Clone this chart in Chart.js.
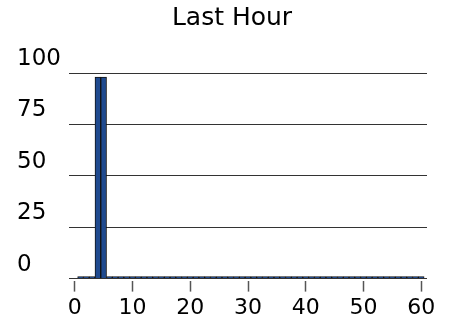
<!DOCTYPE html>
<html>
<head>
<meta charset="utf-8">
<title>Last Hour</title>
<script src="https://cdn.jsdelivr.net/npm/chart.js@4/dist/chart.umd.min.js"></script>
<style>
  html, body { margin: 0; padding: 0; background: #fff; }
  #wrap { width: 454px; height: 319px; }
</style>
</head>
<body>
<div id="wrap"><canvas id="c" width="454" height="319"></canvas></div>
<script>
(function () {
  "use strict";

  // minutes of the last hour, and count per minute
  var MINUTES = [
    1, 2, 3, 4, 5, 6, 7, 8, 9, 10,
    11, 12, 13, 14, 15, 16, 17, 18, 19, 20,
    21, 22, 23, 24, 25, 26, 27, 28, 29, 30,
    31, 32, 33, 34, 35, 36, 37, 38, 39, 40,
    41, 42, 43, 44, 45, 46, 47, 48, 49, 50,
    51, 52, 53, 54, 55, 56, 57, 58, 59, 60
  ];
  var COUNTS = [
    1, 1, 1, 98, 98, 1, 1, 1, 1, 1,
    1, 1, 1, 1, 1, 1, 1, 1, 1, 1,
    1, 1, 1, 1, 1, 1, 1, 1, 1, 1,
    1, 1, 1, 1, 1, 1, 1, 1, 1, 1,
    1, 1, 1, 1, 1, 1, 1, 1, 1, 1,
    1, 1, 1, 1, 1, 1, 1, 1, 1, 1
  ];
  var X_TICKS = [0, 10, 20, 30, 40, 50, 60];
  var Y_TICKS = [0, 25, 50, 75, 100];

  var FONT = "'DejaVu Sans', sans-serif";

  var points = MINUTES.map(function (m, i) {
    return { x: m, y: COUNTS[i] };
  });

  function fixTicks(list) {
    return function (scale) {
      scale.ticks = list.map(function (v) { return { value: v }; });
    };
  }

  // title in the original sits a bit right of the canvas centre
  var titleNudge = {
    id: "titleNudge",
    afterLayout: function (chart) {
      var t = chart.titleBlock;
      if (t) t.left += 20;
    }
  };

  new Chart(document.getElementById("c").getContext("2d"), {
    type: "bar",
    data: {
      datasets: [{
        data: points,
        backgroundColor: "#1f4a8f",
        borderColor: "#111",
        borderWidth: 1,
        barPercentage: 1,
        categoryPercentage: 1
      }]
    },
    options: {
      responsive: false,
      animation: false,
      layout: { padding: { left: 17, right: 27, top: 0, bottom: 0 } },
      plugins: {
        legend: { display: false },
        tooltip: { enabled: false },
        title: {
          display: true,
          text: "Last Hour",
          color: "#000",
          font: { family: FONT, size: 25, weight: "normal" },
          padding: { top: 3, bottom: 40 }
        }
      },
      scales: {
        x: {
          type: "linear",
          offset: false,
          min: -1,
          max: 61,
          afterBuildTicks: fixTicks(X_TICKS),
          afterFit: function (scale) { scale.height -= 5; },
          border: { display: false },
          grid: {
            offset: false,
            drawOnChartArea: false,
            drawTicks: true,
            tickLength: 11,
            tickColor: "#555",
            tickWidth: 1.5
          },
          ticks: {
            color: "#000",
            padding: 3,
            maxRotation: 0,
            font: { family: FONT, size: 22 }
          }
        },
        y: {
          min: -1,
          max: 100,
          afterBuildTicks: fixTicks(Y_TICKS),
          afterFit: function (scale) { scale.width = 52; },
          border: { display: false },
          grid: {
            color: "#333",
            lineWidth: 1,
            drawTicks: false
          },
          ticks: {
            color: "#000",
            crossAlign: "far",
            labelOffset: -14,
            padding: 0,
            font: { family: FONT, size: 23 }
          }
        }
      }
    },
    plugins: [titleNudge]
  });
})();
</script>
</body>
</html>
